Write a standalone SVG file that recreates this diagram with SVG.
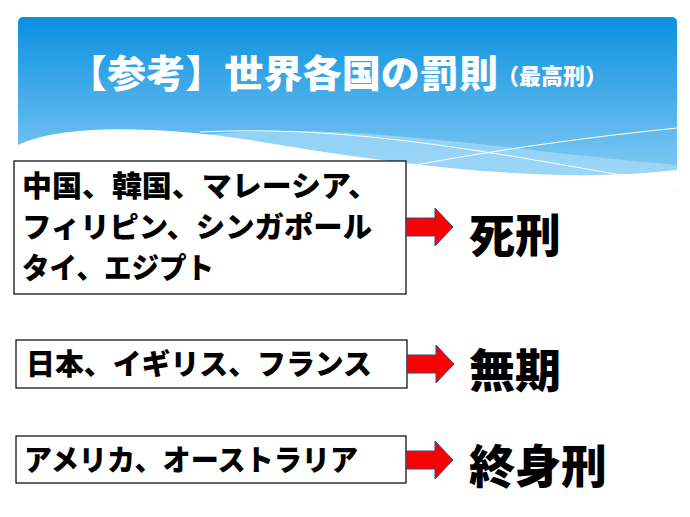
<svg xmlns="http://www.w3.org/2000/svg" width="690" height="517" viewBox="0 0 690 517">
<style>
.t{font-family:"Noto Sans CJK JP",sans-serif;font-weight:900;fill:#000}
.box{fill:#fff;stroke:#000;stroke-width:1.2}
.arr{fill:#f00;stroke:#2a4f8a;stroke-width:1}
</style>
<defs>
<linearGradient id="g" x1="0" y1="0" x2="0" y2="1">
<stop offset="0" stop-color="#0a90e0"/><stop offset="1" stop-color="#8fd0f5"/>
</linearGradient>
<clipPath id="c"><rect x="18" y="17" width="659" height="175" rx="5"/></clipPath>
</defs>
<rect width="690" height="517" fill="#fff"/>
<g id="header" clip-path="url(#c)">
<rect x="18" y="17" width="659" height="175" fill="url(#g)"/>
<path d="M200,135 C350,120 500,150 677,165 L677,192 L200,192Z" fill="#a6dcf8" opacity="0.7"/>
<path d="M300,190 C420,160 560,140 677,128" fill="none" stroke="#fff" stroke-width="1"/>
<path d="M200,132 C350,125 480,150 677,185" fill="none" stroke="#fff" stroke-width="1"/>
<path d="M18,145 C60,125 150,125 250,140 C400,165 550,185 677,170 L677,192 L18,192Z" fill="#fff"/>
<text x="68" y="87" font-family="Noto Sans CJK JP,sans-serif" font-weight="900" font-size="38" fill="#fff" textLength="430" lengthAdjust="spacingAndGlyphs">【参考】世界各国の罰則</text>
<text x="497" y="84" font-family="Noto Sans CJK JP,sans-serif" font-weight="900" font-size="22" fill="#fff" textLength="110" lengthAdjust="spacingAndGlyphs">（最高刑）</text>
</g>
<g id="n1"><rect class="box" x="14" y="161" width="392" height="133"/>
<text class="t" font-size="29" x="22" y="197" textLength="356" lengthAdjust="spacingAndGlyphs">中国、韓国、マレーシア、</text>
<text class="t" font-size="29" x="22" y="238" textLength="350" lengthAdjust="spacingAndGlyphs">フィリピン、シンガポール</text>
<text class="t" font-size="29" x="22" y="279" textLength="192" lengthAdjust="spacingAndGlyphs">タイ、エジプト</text></g>
<g id="n2"><rect class="box" x="16" y="340" width="391" height="48"/>
<text class="t" font-size="29" x="26" y="375" textLength="346" lengthAdjust="spacingAndGlyphs">日本、イギリス、フランス</text></g>
<g id="n3"><rect class="box" x="16" y="436" width="390" height="47"/>
<text class="t" font-size="29" x="24" y="471" textLength="334" lengthAdjust="spacingAndGlyphs">アメリカ、オーストラリア</text></g>
<g id="r1"><text class="t" font-size="46" x="469" y="252">死刑</text></g>
<g id="r2"><text class="t" font-size="46" x="469" y="387">無期</text></g>
<g id="r3"><text class="t" font-size="46" x="469" y="483">終身刑</text></g>
<g id="connectors">
<path class="arr" d="M406,218 H435 V208 L453,227 L435,246 V236 H406Z"/>
<path class="arr" d="M407,355 H436 V345 L454,364 L436,383 V373 H407Z"/>
<path class="arr" d="M406,451 H435 V441 L453,460 L435,479 V469 H406Z"/>
</g>
</svg>
